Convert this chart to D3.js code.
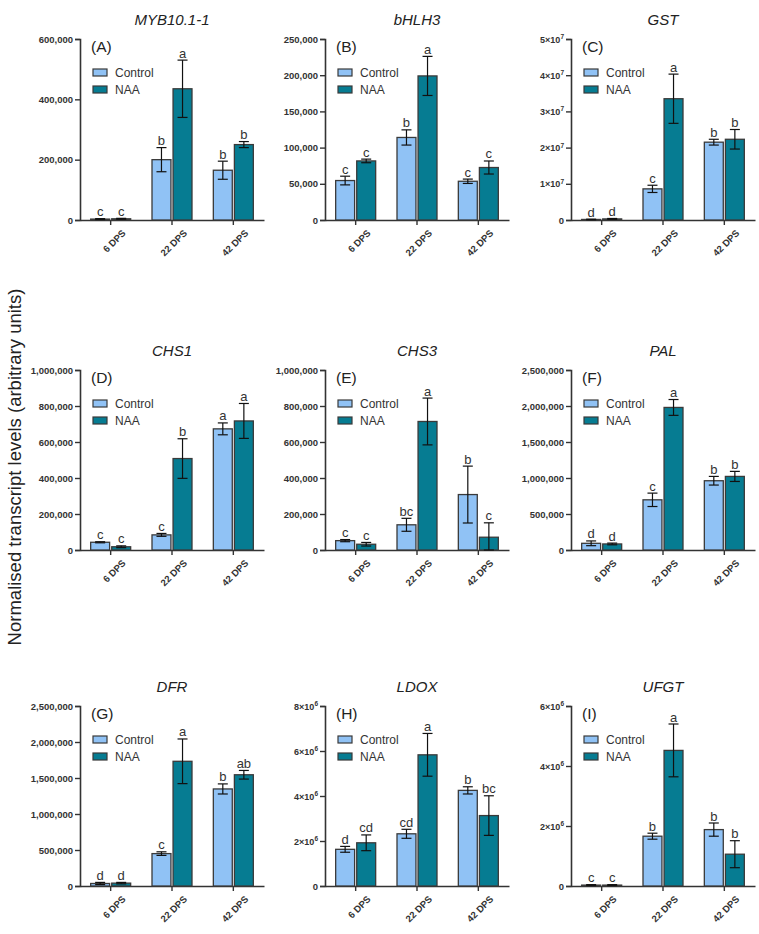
<!DOCTYPE html>
<html>
<head>
<meta charset="utf-8">
<script src="https://cdn.jsdelivr.net/npm/d3@7"></script>
<style>
  html, body { margin: 0; padding: 0; background: #fff; }
  svg { display: block; font-family: "Liberation Sans", Arial, sans-serif; }
</style>
</head>
<body>
<svg id="chart" width="759" height="934"></svg>
<script>
// ---- data ----
const groups = ["6 DPS", "22 DPS", "42 DPS"];
const seriesNames = ["Control", "NAA"];
const genes = ["MYB10.1-1", "bHLH3", "GST", "CHS1", "CHS3", "PAL", "DFR", "LDOX", "UFGT"];
const panelTags = ["(A)", "(B)", "(C)", "(D)", "(E)", "(F)", "(G)", "(H)", "(I)"];
const controlMeans = [
  [3000, 200000, 165000],
  [54500, 114000, 53500],
  [150000, 8.6e6, 2.15e7],
  [43000, 84000, 673000],
  [52000, 140000, 308000],
  [93000, 697000, 962000],
  [35000, 450000, 1348000],
  [1.63e6, 2.32e6, 4.25e6],
  [30000, 1.66e6, 1.88e6]
];
const controlErrs = [
  [1500, 40000, 30000],
  [6000, 10500, 3000],
  [80000, 1.0e6, 0.8e6],
  [3000, 8000, 33000],
  [6000, 36000, 158000],
  [33000, 93000, 60000],
  [15000, 25000, 70000],
  [0.13e6, 0.2e6, 0.16e6],
  [15000, 0.1e6, 0.22e6]
];
const naaMeans = [
  [4000, 435000, 250000],
  [81600, 199000, 72500],
  [300000, 3.35e7, 2.23e7],
  [18000, 508000, 717000],
  [32000, 714000, 71000],
  [84000, 1.98e6, 1.022e6],
  [40000, 1.732e6, 1.545e6],
  [1.92e6, 5.83e6, 3.13e6],
  [30000, 4.52e6, 1.06e6]
];
const naaErrs = [
  [1500, 95000, 10000],
  [2500, 27000, 9000],
  [120000, 6.8e6, 2.7e6],
  [5000, 110000, 97000],
  [10000, 130000, 80000],
  [12000, 110000, 70000],
  [10000, 310000, 60000],
  [0.35e6, 0.95e6, 0.88e6],
  [15000, 0.88e6, 0.45e6]
];
// letters: per group, Control then NAA
const sigLetters = [
  ["c", "c", "b", "a", "b", "b"],
  ["c", "c", "b", "a", "c", "c"],
  ["d", "d", "c", "a", "b", "b"],
  ["c", "c", "c", "b", "a", "a"],
  ["c", "c", "bc", "a", "b", "c"],
  ["d", "d", "c", "a", "b", "b"],
  ["d", "d", "c", "a", "b", "ab"],
  ["d", "cd", "cd", "a", "b", "bc"],
  ["c", "c", "b", "a", "b", "b"]
];
const yMax = [600000, 250000, 5e7, 1e6, 1e6, 2.5e6, 2.5e6, 8e6, 6e6];
const yStep = [200000, 50000, 1e7, 200000, 200000, 500000, 500000, 2e6, 2e6];
const tickStyle = ["comma", "comma", "sci", "comma", "comma", "comma", "comma", "sci", "sci"];
const yAxisTitle = "Normalised transcript levels (arbitrary units)";

// ---- layout ----
const colX = [80, 325, 571];
const rowTop = [39, 370, 706];
const rowH = [181, 180, 180];
const plotW = 184;
const colors = { Control: "#90C2F5", NAA: "#067C92" };
const ink = "#333";

const svg = d3.select("#chart");

genes.forEach((gene, i) => {
  const col = i % 3, row = Math.floor(i / 3);
  const x0 = colX[col], top = rowTop[row], h = rowH[row];
  const g = svg.append("g").attr("transform", `translate(${x0},${top})`);

  const x = d3.scaleBand().domain(groups).range([0, plotW]).paddingInner(0).paddingOuter(0);
  const xs = d3.scaleBand().domain(seriesNames).range([-20, 20]).paddingInner(0.1).paddingOuter(0);
  const y = d3.scaleLinear().domain([0, yMax[i]]).range([h, 0]);

  const ticks = d3.range(0, yMax[i] + yStep[i] / 2, yStep[i]);
  const expo = Math.floor(Math.log10(yMax[i]) + 1e-9);
  const fmt = v => (v === 0 || tickStyle[i] === "comma") ? d3.format(",")(v) : "";

  // y axis
  const yAxis = g.append("g").call(d3.axisLeft(y).tickValues(ticks).tickFormat(fmt).tickSize(5).tickPadding(2));
  yAxis.select(".domain").attr("stroke", ink).attr("stroke-width", 1.6);
  yAxis.selectAll(".tick line").attr("stroke", ink).attr("stroke-width", 1.4);
  yAxis.selectAll(".tick text")
    .attr("fill", ink).attr("font-size", "9.5px").attr("font-weight", "bold")
    .attr("font-family", "'Liberation Sans', Arial, sans-serif");
  if (tickStyle[i] === "sci") {
    yAxis.selectAll(".tick text").each(function(v) {
      if (v === 0) return;
      const t = d3.select(this);
      t.text(null);
      t.append("tspan").attr("font-size", "9px").text(Math.round(v / Math.pow(10, expo)) + "×10");
      t.append("tspan").attr("font-size", "6.5px").attr("dy", "-3.5").text(String(expo));
    });
  }

  // x axis
  const xAxis = g.append("g").attr("transform", `translate(0,${h})`)
    .call(d3.axisBottom(x).tickSize(5).tickPadding(3).tickSizeOuter(0));
  xAxis.select(".domain").attr("stroke", ink).attr("stroke-width", 1.6);
  xAxis.selectAll(".tick line").attr("stroke", ink).attr("stroke-width", 1.4);
  xAxis.selectAll(".tick text")
    .attr("fill", ink).attr("font-size", "9.5px").attr("font-weight", "bold")
    .attr("font-family", "'Liberation Sans', Arial, sans-serif")
    .attr("text-anchor", "end")
    .attr("transform", "translate(6,4) rotate(-45)")
    .attr("dy", "0.6em");

  // data for bars
  const data = [];
  groups.forEach((grp, gi) => {
    data.push({ grp, s: "Control", v: controlMeans[i][gi], e: controlErrs[i][gi], lab: sigLetters[i][gi * 2] });
    data.push({ grp, s: "NAA", v: naaMeans[i][gi], e: naaErrs[i][gi], lab: sigLetters[i][gi * 2 + 1] });
  });
  const cx = d => x(d.grp) + x.bandwidth() / 2 + xs(d.s);
  const bw = xs.bandwidth();

  g.append("g").selectAll("rect").data(data).join("rect")
    .attr("x", d => cx(d))
    .attr("y", d => y(d.v))
    .attr("width", bw)
    .attr("height", d => Math.max(0, h - y(d.v)))
    .attr("fill", d => colors[d.s])
    .attr("stroke", "#3a3a3a").attr("stroke-width", 1.3);

  const eb = g.append("g").attr("stroke", "#111").attr("stroke-width", 1.2);
  data.forEach(d => {
    const mx = cx(d) + bw / 2;
    const yt = y(d.v + d.e), yb = y(Math.max(0, d.v - d.e));
    eb.append("line").attr("x1", mx).attr("x2", mx).attr("y1", yt).attr("y2", yb);
    eb.append("line").attr("x1", mx - 5).attr("x2", mx + 5).attr("y1", yt).attr("y2", yt);
    eb.append("line").attr("x1", mx - 5).attr("x2", mx + 5).attr("y1", yb).attr("y2", yb);
  });

  g.append("g").selectAll("text").data(data).join("text")
    .attr("x", d => cx(d) + bw / 2)
    .attr("y", d => y(d.v + d.e) - 2.5)
    .attr("text-anchor", "middle")
    .attr("font-size", "13px").attr("fill", ink)
    .text(d => d.lab);

  // title
  g.append("text").attr("x", plotW / 2).attr("y", -14)
    .attr("text-anchor", "middle").attr("font-size", "15px").attr("font-style", "italic").attr("fill", "#222")
    .text(gene);

  // panel tag
  g.append("text").attr("x", 11).attr("y", 13)
    .attr("font-size", "15.5px").attr("fill", "#222").text(panelTags[i]);

  // legend
  const lg = g.append("g").attr("transform", "translate(13,30)");
  seriesNames.forEach((s, k) => {
    lg.append("rect").attr("x", 0).attr("y", k * 17).attr("width", 14).attr("height", 7)
      .attr("fill", colors[s]).attr("stroke", "#3a3a3a").attr("stroke-width", 1.2);
    lg.append("text").attr("x", 22).attr("y", k * 17 + 3.5).attr("dy", "0.35em")
      .attr("font-size", "12px").attr("fill", ink).text(s);
  });
});

// shared y-axis title
svg.append("text")
  .attr("transform", "translate(21,467) rotate(-90)")
  .attr("text-anchor", "middle")
  .attr("font-size", "18.5px").attr("fill", "#222")
  .text(yAxisTitle);
</script>
</body>
</html>
